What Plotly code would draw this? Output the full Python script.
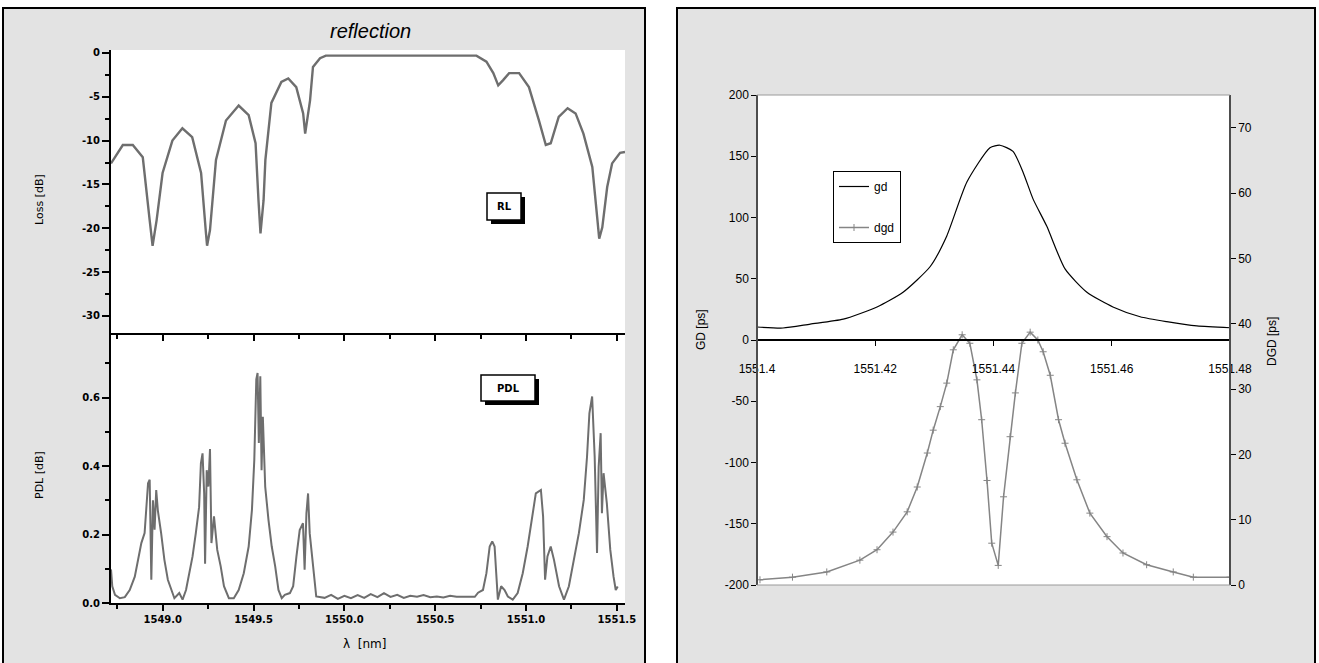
import plotly.graph_objects as go

# ---------------- data ----------------
rl_wl = [1548.715, 1548.78, 1548.835, 1548.89, 1548.928, 1548.944, 1548.966, 1548.999, 1549.053, 1549.108,
         1549.162, 1549.211, 1549.238, 1549.244, 1549.26, 1549.293, 1549.348, 1549.418, 1549.473, 1549.511,
         1549.527, 1549.538, 1549.555, 1549.565, 1549.598, 1549.653, 1549.691, 1549.735, 1549.773, 1549.784,
         1549.811, 1549.827, 1549.866, 1549.898, 1550.727, 1550.782, 1550.82, 1550.847, 1550.874, 1550.907,
         1550.962, 1551.016, 1551.071, 1551.109, 1551.136, 1551.18, 1551.229, 1551.273, 1551.316, 1551.365,
         1551.392, 1551.403, 1551.42, 1551.447, 1551.474, 1551.518, 1551.545]
rl_db = [-12.6, -10.5, -10.5, -11.9, -19.1, -22.0, -19.1, -13.7, -10.0, -8.6,
         -9.6, -13.7, -20.6, -22.0, -20.2, -12.2, -7.7, -6.0, -7.1, -10.3,
         -16.8, -20.6, -16.8, -12.2, -5.7, -3.3, -2.9, -3.9, -6.9, -9.2,
         -5.4, -1.6, -0.6, -0.3, -0.3, -1.0, -2.3, -3.7, -3.1, -2.3,
         -2.3, -3.9, -7.7, -10.5, -10.3, -7.3, -6.3, -6.9, -9.2, -13.0,
         -18.8, -21.2, -19.9, -15.3, -12.6, -11.4, -11.3]

pdl_wl = [1548.715, 1548.722, 1548.737, 1548.764, 1548.791, 1548.818, 1548.846, 1548.864, 1548.882, 1548.9,
          1548.91, 1548.919, 1548.928, 1548.937, 1548.946, 1548.955, 1548.964, 1548.973, 1548.991, 1549.009,
          1549.028, 1549.046, 1549.064, 1549.091, 1549.109, 1549.128, 1549.146, 1549.164, 1549.182, 1549.2,
          1549.21, 1549.219, 1549.228, 1549.233, 1549.242, 1549.251, 1549.26, 1549.268, 1549.282, 1549.3,
          1549.319, 1549.337, 1549.364, 1549.391, 1549.418, 1549.446, 1549.473, 1549.491, 1549.504, 1549.515,
          1549.522, 1549.529, 1549.537, 1549.544, 1549.551, 1549.564, 1549.582, 1549.6, 1549.619, 1549.637,
          1549.655, 1549.672, 1549.7, 1549.718, 1549.736, 1549.754, 1549.772, 1549.781, 1549.791, 1549.8,
          1549.809, 1549.827, 1549.845, 1549.891, 1549.927, 1549.964, 1550.0, 1550.036, 1550.073, 1550.109,
          1550.145, 1550.182, 1550.218, 1550.254, 1550.291, 1550.327, 1550.363, 1550.4, 1550.436, 1550.473,
          1550.509, 1550.545, 1550.582, 1550.618, 1550.672, 1550.718, 1550.736, 1550.763, 1550.782, 1550.8,
          1550.814, 1550.827, 1550.836, 1550.845, 1550.863, 1550.882, 1550.9, 1550.927, 1550.954, 1550.982,
          1551.009, 1551.036, 1551.054, 1551.082, 1551.094, 1551.105, 1551.118, 1551.136, 1551.154, 1551.182,
          1551.209, 1551.236, 1551.264, 1551.291, 1551.318, 1551.336, 1551.349, 1551.364, 1551.378, 1551.391,
          1551.4, 1551.411, 1551.418, 1551.427, 1551.445, 1551.464, 1551.482, 1551.494, 1551.505]
pdl_db = [0.098, 0.049, 0.024, 0.014, 0.017, 0.038, 0.077, 0.126, 0.175, 0.204,
          0.28, 0.35, 0.36, 0.068, 0.30, 0.214, 0.33, 0.27, 0.204, 0.126,
          0.068, 0.038, 0.014, 0.029, 0.01, 0.038, 0.087, 0.136, 0.204, 0.28,
          0.408, 0.437, 0.32, 0.115, 0.388, 0.34, 0.45, 0.175, 0.253, 0.155,
          0.107, 0.049, 0.014, 0.014, 0.038, 0.087, 0.165, 0.272, 0.418, 0.653,
          0.672, 0.467, 0.662, 0.388, 0.544, 0.34, 0.243, 0.165, 0.107, 0.038,
          0.014, 0.024, 0.029, 0.049, 0.136, 0.213, 0.233, 0.097, 0.262, 0.32,
          0.204, 0.107, 0.019, 0.015, 0.024, 0.012, 0.021, 0.014, 0.023, 0.015,
          0.026, 0.017, 0.029, 0.018, 0.024, 0.015, 0.021, 0.018, 0.023, 0.017,
          0.019, 0.016, 0.021, 0.018, 0.019, 0.018, 0.03, 0.038, 0.087, 0.165,
          0.18, 0.165, 0.087, 0.01, 0.049, 0.038, 0.019, 0.01, 0.029, 0.087,
          0.165, 0.262, 0.32, 0.33, 0.253, 0.068, 0.136, 0.165, 0.126, 0.049,
          0.01, 0.049, 0.126, 0.204, 0.301, 0.428, 0.554, 0.603, 0.428, 0.146,
          0.398, 0.496, 0.262, 0.379, 0.291, 0.155, 0.077, 0.038, 0.048]

gd_wl = [1551.400, 1551.4044, 1551.409, 1551.4146, 1551.4203, 1551.4247, 1551.4293, 1551.4321, 1551.4355,
         1551.4394, 1551.4411, 1551.4433, 1551.445, 1551.4467, 1551.449, 1551.4521, 1551.4558, 1551.4602,
         1551.4648, 1551.4693, 1551.4744, 1551.48]
gd_ps = [10.6, 9.8, 13, 17, 27, 39, 60, 85, 129,
         157, 159, 154, 137, 115, 93, 58, 39, 27,
         19, 15, 11.5, 10]

dgd_wl = [1551.4005, 1551.406, 1551.4118, 1551.4174, 1551.4203, 1551.423, 1551.4254, 1551.4271, 1551.4288,
          1551.4298, 1551.431, 1551.4321, 1551.4332, 1551.4347, 1551.436, 1551.4372, 1551.438, 1551.4389,
          1551.4397, 1551.4408, 1551.4417, 1551.4428, 1551.4437, 1551.4448, 1551.4462, 1551.4475, 1551.4484,
          1551.4496, 1551.451, 1551.4521, 1551.4541, 1551.4563, 1551.4592, 1551.4619, 1551.4659, 1551.4704,
          1551.4738, 1551.48]
dgd_ps = [0.8, 1.2, 2.0, 3.8, 5.4, 8.1, 11.2, 15, 20.2,
          23.7, 27.3, 30.9, 36, 38.3, 37, 31.4, 25.3, 16,
          6.4, 3.0, 13.5, 22.7, 29.4, 37, 38.7, 37.5, 35.7,
          32.1, 25.3, 21.7, 16.1, 11, 7.4, 4.9, 3.1, 2,
          1.2, 1.2]

rl_ticks = [0, -5, -10, -15, -20, -25, -30]
rl_ticktext = ["0", "-5", "-10", "-15", "-20", "-25", "-30"]
pdl_ticks = [0.0, 0.2, 0.4, 0.6]
pdl_ticktext = ["0.0", "0.2", "0.4", "0.6"]
wl_ticks = [1549.0, 1549.5, 1550.0, 1550.5, 1551.0, 1551.5]
wl_ticktext = ["1549.0", "1549.5", "1550.0", "1550.5", "1551.0", "1551.5"]
gd_ticks = [200, 150, 100, 50, 0, -50, -100, -150, -200]
gd_ticktext = ["200", "150", "100", "50", "0", "-50", "-100", "-150", "-200"]
dgd_ticks = [0, 10, 20, 30, 40, 50, 60, 70]
x3_ticks = [1551.40, 1551.42, 1551.44, 1551.46, 1551.48]
x3_ticktext = ["1551.4", "1551.42", "1551.44", "1551.46", "1551.48"]

# ---------------- layout helpers ----------------
W, H = 1319, 663
def fx(px): return px / W
def fy(py): return 1 - py / H

GRAY = "#e3e3e3"
CURVE = "#6e6e6e"
PIX_FONT = dict(family="DejaVu Sans", size=10, color="black", weight="bold")
ARIAL = dict(family="Liberation Sans", size=12, color="black")

x_dom = [fx(111), fx(625)]
y_top = [fy(332.5), fy(50)]
y_bot = [fy(603), fy(332.5)]
x3_dom = [fx(757), fx(1230)]
y3_dom = [fy(585), fy(95)]
y3_range = [-200, 200]
zero_pos = y3_dom[0] + (0 - y3_range[0]) / (y3_range[1] - y3_range[0]) * (y3_dom[1] - y3_dom[0])

fig = go.Figure()
fig.add_trace(go.Scatter(x=rl_wl, y=rl_db, mode="lines", line=dict(color=CURVE, width=2.4),
                         xaxis="x", yaxis="y", showlegend=False))
fig.add_trace(go.Scatter(x=pdl_wl, y=pdl_db, mode="lines", line=dict(color=CURVE, width=2),
                         xaxis="x2", yaxis="y2", showlegend=False))
fig.add_trace(go.Scatter(x=gd_wl, y=gd_ps, mode="lines", name="gd",
                         line=dict(color="black", width=1.2, shape="spline", smoothing=0.6),
                         xaxis="x3", yaxis="y3", legendgroup="a"))
fig.add_trace(go.Scatter(x=dgd_wl, y=dgd_ps, mode="lines+markers", name="dgd",
                         line=dict(color="#858585", width=1.5),
                         marker=dict(symbol="cross-thin-open", size=5, line=dict(color="#858585", width=1)),
                         xaxis="x3", yaxis="y4", legendgroup="b"))

wl_range = [1548.715, 1551.545]
common_x = dict(range=wl_range, showline=True, linecolor="black", linewidth=2, ticks="outside",
                tickcolor="black", tickwidth=1.5, ticklen=6, showgrid=False, zeroline=False, automargin=False,
                tickvals=wl_ticks, ticktext=wl_ticktext,
                minor=dict(ticks="outside", dtick=0.25, tick0=1549.0, ticklen=4, tickcolor="black", tickwidth=1.5))

def prect(x0, x1, y0, y1, **kw):
    return dict(type="rect", xref="paper", yref="paper", x0=x0, x1=x1, y0=y0, y1=y1, **kw)

shapes = [
    prect(fx(3), fx(645), -0.02, fy(8), fillcolor=GRAY, line=dict(color="black", width=2), layer="below"),
    prect(fx(677), fx(1315), -0.02, fy(8), fillcolor=GRAY, line=dict(color="black", width=2), layer="below"),
    # white plot areas
    prect(x_dom[0], x_dom[1], y_bot[0], y_top[1], fillcolor="white", line=dict(width=0), layer="below"),
    prect(x3_dom[0], x3_dom[1], y3_dom[0], y3_dom[1], fillcolor="white", line=dict(width=0), layer="below"),
    prect(x3_dom[0], x3_dom[1], y3_dom[0], y3_dom[1], line=dict(color="#9a9a9a", width=1), layer="above"),
]
# boxed labels with drop shadow
for (bx0, by0, bx1, by1) in [(487, 193, 521, 220), (481, 375, 535, 401)]:
    shapes.append(prect(fx(bx0 + 4), fx(bx1 + 4), fy(by1 + 4), fy(by0 + 4),
                        fillcolor="black", line=dict(width=0), layer="above"))
    shapes.append(prect(fx(bx0), fx(bx1), fy(by1), fy(by0),
                        fillcolor="white", line=dict(color="black", width=1.5), layer="above"))

def ann(text, px, py, font, angle=0):
    return dict(text=text, x=fx(px), y=fy(py), xref="paper", yref="paper", showarrow=False,
                xanchor="center", yanchor="middle", textangle=angle, font=font)

annotations = [
    ann("reflection", 370, 31, dict(family="Liberation Sans", size=20, style="italic", color="black")),
    ann("Loss [dB]", 39, 200, dict(family="DejaVu Sans", size=11, color="black"), -90),
    ann("PDL [dB]", 39, 475, dict(family="DejaVu Sans", size=11, color="black"), -90),
    ann("λ  [nm]", 364, 644, dict(family="DejaVu Sans", size=12, color="black")),
    ann("RL", 504, 206.5, dict(family="DejaVu Sans", size=10, color="black", weight="bold")),
    ann("PDL", 508, 388, dict(family="DejaVu Sans", size=10, color="black", weight="bold")),
    ann("GD [ps]", 701, 330, ARIAL, -90),
    ann("DGD [ps]", 1272, 342, ARIAL, -90),
]

fig.update_layout(
    width=W, height=H, margin=dict(l=0, r=0, t=0, b=0, pad=0, autoexpand=False),
    paper_bgcolor="white", plot_bgcolor="white",
    shapes=shapes, annotations=annotations,
    xaxis=dict(domain=x_dom, anchor="y", showticklabels=False, **common_x),
    xaxis2=dict(domain=x_dom, anchor="y2", tickfont=PIX_FONT, **common_x),
    yaxis=dict(domain=y_top, anchor="x", range=[-31.9, 0.34], showline=True, linecolor="black", linewidth=2,
               ticks="outside", ticklen=7, tickwidth=1.5, tickcolor="black", showgrid=False, zeroline=False,
               automargin=False, tickvals=rl_ticks, ticktext=rl_ticktext, tickfont=PIX_FONT,
               minor=dict(ticks="outside", dtick=2.5, ticklen=4, tickcolor="black", tickwidth=1.5)),
    yaxis2=dict(domain=y_bot, anchor="x2", range=[0, 0.79], showline=True, linecolor="black", linewidth=2,
                ticks="outside", ticklen=7, tickwidth=1.5, tickcolor="black", showgrid=False, zeroline=False,
                automargin=False, tickvals=pdl_ticks, ticktext=pdl_ticktext, tickfont=PIX_FONT,
                minor=dict(ticks="outside", dtick=0.1, ticklen=4, tickcolor="black", tickwidth=1.5)),
    xaxis3=dict(domain=x3_dom, anchor="free", position=zero_pos, range=[1551.4, 1551.48],
                showline=True, linecolor="black", linewidth=1.5, ticks="outside", ticklen=5,
                tickcolor="black", showgrid=False, zeroline=False, automargin=False,
                tickvals=x3_ticks, ticktext=x3_ticktext, tickfont=ARIAL, ticklabelstandoff=13),
    yaxis3=dict(domain=y3_dom, anchor="free", position=x3_dom[0], range=y3_range, showline=True,
                linecolor="black", linewidth=1.5, ticks="outside", ticklen=5, tickcolor="black",
                showgrid=False, zeroline=False, automargin=False,
                tickvals=gd_ticks, ticktext=gd_ticktext, tickfont=ARIAL),
    yaxis4=dict(domain=y3_dom, anchor="free", position=x3_dom[1], overlaying="y3", side="right",
                range=[0, 75], showline=True, linecolor="black", linewidth=1.5, ticks="outside",
                ticklen=5, tickcolor="black", showgrid=False, zeroline=False, automargin=False,
                tickvals=dgd_ticks, tickfont=ARIAL),
    legend=dict(x=fx(833), y=fy(171), xanchor="left", yanchor="top", bgcolor="white",
                bordercolor="black", borderwidth=1, font=dict(family="Liberation Sans", size=12, color="black"),
                tracegroupgap=22, traceorder="grouped", itemwidth=30),
    showlegend=True,
)

fig.write_html("out.html")
